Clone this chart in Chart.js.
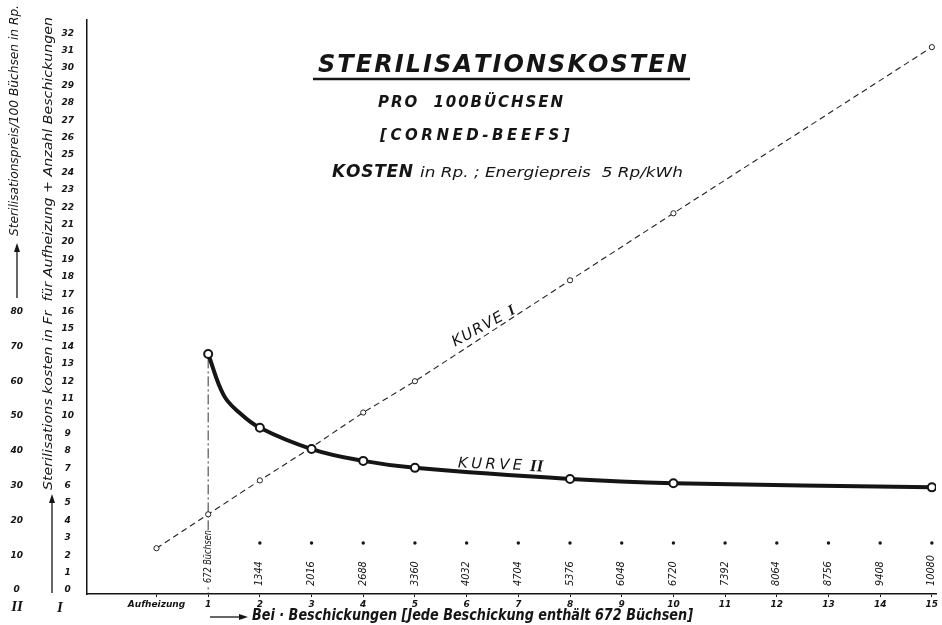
<!DOCTYPE html>
<html><head><meta charset="utf-8">
<script src="https://cdn.jsdelivr.net/npm/chart.js@4.4.1/dist/chart.umd.min.js"></script>
<style>html,body{margin:0;padding:0;background:#fff;}canvas{display:block;}</style>
</head><body>
<canvas id="c" width="942" height="625"></canvas>
<script>
// ---- data ----
const beschickungen = [0,1,2,3,4,5,6,7,8,9,10,11,12,13,14,15];
const xTickLabels = ['Aufheizung','1','2','3','4','5','6','7','8','9','10','11','12','13','14','15'];
const buechsenLabels = ['672 Büchsen','1344','2016','2688','3360','4032','4704','5376','6048','6720','7392','8064','8756','9408','10080'];
const kurve1X = [0,1,2,3,4,5,8,10,15];
const kurve1Fr = [2.4,4.35,6.3,8.2,10.2,12.0,17.8,21.65,31.2];      // Kurve I, scale I (Fr)
const kurve2X = [1,1.3,1.6,2,3,4,5,8,10,15];
const kurve2Rp = [67.8,56.0,51.0,46.6,40.5,37.1,35.1,31.9,30.7,29.5];
const kurve2Marked = [true,false,false,true,true,true,true,true,true,true];
const markX = [2,3,4,5,6,7,8,9,10,11,12,13,14,15];
const markValues = [2.7,2.7,2.7,2.7,2.7,2.7,2.7,2.7,2.7,2.7,2.7,2.7,2.7,2.7];
const scaleITicks = [0,1,2,3,4,5,6,7,8,9,10,11,12,13,14,15,16,17,18,19,20,21,22,23,24,25,26,27,28,29,30,31,32];
const scaleIITicks = [0,10,20,30,40,50,60,70,80];
const rpPerUnitI = 5;   // scale II = 5 x scale I
const yMinI = -0.23, yMaxI = 32.76;

const ink = '#151515';
const tickFont = {family:'"DejaVu Sans"', style:'italic', weight:'bold', size:9};

function fitted(ctx, text, x, y, width){
  const w = ctx.measureText(text).width;
  ctx.save(); ctx.translate(x, y); ctx.scale(width / w, 1); ctx.fillText(text, 0, 0); ctx.restore();
}
function spaced(ctx, text, x, y, width){
  const chars = [...text];
  const natural = ctx.measureText(text).width;
  const extra = chars.length > 1 ? (width - natural) / (chars.length - 1) : 0;
  if (extra < 0) { fitted(ctx, text, x, y, width); return; }
  let cx = x;
  for (const ch of chars){ ctx.fillText(ch, cx, y); cx += ctx.measureText(ch).width + extra; }
}
function arrowUp(ctx, x, y0, y1){
  ctx.beginPath(); ctx.moveTo(x, y0); ctx.lineTo(x, y1 + 6); ctx.stroke();
  ctx.beginPath(); ctx.moveTo(x, y1); ctx.lineTo(x - 3, y1 + 9); ctx.lineTo(x + 3, y1 + 9); ctx.closePath(); ctx.fill();
}
function arrowRight(ctx, x0, x1, y){
  ctx.beginPath(); ctx.moveTo(x0, y); ctx.lineTo(x1 - 6, y); ctx.stroke();
  ctx.beginPath(); ctx.moveTo(x1, y); ctx.lineTo(x1 - 9, y - 3); ctx.lineTo(x1 - 9, y + 3); ctx.closePath(); ctx.fill();
}

const decor = {
  id:'decor',
  afterDatasetsDraw(chart){
    const ctx = chart.ctx, xs = chart.scales.x;
    ctx.save();
    ctx.fillStyle = ink; ctx.strokeStyle = ink;
    ctx.textBaseline = 'alphabetic'; ctx.textAlign = 'left';

    // title block
    ctx.font = 'italic bold 24px "DejaVu Sans"';
    spaced(ctx, 'STERILISATIONSKOSTEN', 318, 72, 365);
    ctx.lineWidth = 2.5; ctx.beginPath(); ctx.moveTo(313, 79); ctx.lineTo(690, 79); ctx.stroke();
    ctx.font = 'italic bold 15px "DejaVu Sans"';
    spaced(ctx, 'PRO  100BÜCHSEN', 378, 107, 185);
    ctx.font = 'italic bold 15px "DejaVu Sans"';
    spaced(ctx, '[CORNED-BEEFS]', 380, 140, 190);
    ctx.font = 'italic bold 17px "DejaVu Sans"';
    spaced(ctx, 'KOSTEN', 332, 177, 80);
    ctx.font = 'italic 14px "DejaVu Sans"';
    fitted(ctx, 'in Rp. ; Energiepreis  5 Rp/kWh', 420, 177, 263);

    // y axis titles
    ctx.lineWidth = 1.3;
    arrowUp(ctx, 52, 593, 494);
    ctx.save(); ctx.translate(53, 490); ctx.rotate(-Math.PI/2);
    ctx.font = 'italic 13px "DejaVu Sans"'; ctx.textBaseline = 'middle';
    fitted(ctx, 'Sterilisations kosten in Fr  für Aufheizung + Anzahl Beschickungen', 0, -4, 473);
    ctx.restore();
    arrowUp(ctx, 17, 298, 243);
    ctx.save(); ctx.translate(18, 236); ctx.rotate(-Math.PI/2);
    ctx.font = 'italic 12px "DejaVu Sans"'; ctx.textBaseline = 'middle';
    fitted(ctx, 'Sterilisationspreis/100 Büchsen in Rp.', 0, -3, 231);
    ctx.restore();
    ctx.font = 'italic bold 15px "Liberation Serif"'; ctx.textAlign = 'center'; ctx.textBaseline = 'middle';
    ctx.fillText('II', 17, 607);
    ctx.fillText('I', 60, 608);

    // x axis title
    ctx.textAlign = 'left'; ctx.textBaseline = 'alphabetic';
    arrowRight(ctx, 210, 248, 617);
    ctx.font = 'italic bold 16px "DejaVu Sans"';
    fitted(ctx, 'Bei · Beschickungen [Jede Beschickung enthält 672 Büchsen]', 252, 620, 441);

    // rotated number of cans labels
    ctx.textBaseline = 'middle';
    buechsenLabels.forEach((lab, i) => {
      const px = xs.getPixelForValue(i + 1);
      ctx.save(); ctx.translate(px, 586); ctx.rotate(-Math.PI/2);
      ctx.font = 'italic 10px "DejaVu Sans"';
      if (i === 0){
        ctx.fillStyle = '#fff'; ctx.fillRect(0, -5, 56, 10); ctx.fillStyle = ink;
        fitted(ctx, lab, 3, 0, 53);
      } else {
        const w = ctx.measureText(lab).width;
        fitted(ctx, lab, 0, 0, Math.min(w, lab.length * 6.2));
      }
      ctx.restore();
    });

    // curve names
    ctx.textBaseline = 'alphabetic';
    ctx.save(); ctx.translate(484, 325); ctx.rotate(-29 * Math.PI/180);
    ctx.font = 'italic 15px "DejaVu Sans"';
    spaced(ctx, 'KURVE', -36, 5, 56);
    ctx.font = 'italic bold 15px "Liberation Serif"';
    ctx.fillText('I', 28, 5);
    ctx.restore();
    ctx.save(); ctx.translate(500, 464); ctx.rotate(2 * Math.PI/180);
    ctx.font = 'italic 15px "DejaVu Sans"';
    spaced(ctx, 'KURVE', -42, 5, 64);
    ctx.font = 'italic bold 17px "Liberation Serif"';
    ctx.fillText('II', 30, 6);
    ctx.restore();
    ctx.restore();
  }
};

new Chart(document.getElementById('c'), {
  type:'scatter',
  data:{ datasets:[
    { label:'Kurve II', yAxisID:'y2', data: kurve2X.map((x,i)=>({x, y:kurve2Rp[i]})),
      showLine:true, borderColor:ink, borderWidth:4, tension:0.4,
      pointRadius:c=>kurve2Marked[c.dataIndex] ? 4 : 0,
      pointBorderWidth:2, pointBackgroundColor:'#fff', pointBorderColor:ink },
    { label:'Kurve I', yAxisID:'y', data: kurve1X.map((x,i)=>({x, y:kurve1Fr[i]})),
      showLine:true, borderColor:'#222', borderWidth:1.1, borderDash:[6,4], tension:0,
      pointRadius:2.6, pointBorderWidth:1, pointBackgroundColor:'#fff', pointBorderColor:'#222' },
    { label:'Marken', yAxisID:'y', data: markX.map((x,i)=>({x, y:markValues[i]})),
      showLine:false, pointRadius:1.7, pointBorderWidth:0, pointBackgroundColor:ink },
    { label:'Lot', yAxisID:'y', data:[{x:kurve2X[0], y:kurve2Rp[0]/rpPerUnitI - 0.25},{x:kurve2X[0], y:yMinI}],
      showLine:true, borderColor:'#333', borderWidth:1, borderDash:[10,3,2,3], pointRadius:0 }
  ]},
  options:{
    responsive:false, animation:false, devicePixelRatio:1,
    layout:{ padding:{top:20,left:0,right:0,bottom:0} },
    plugins:{ legend:{display:false}, tooltip:{enabled:false} },
    scales:{
      x:{ type:'linear', min:-1.344, max:15.08,
        afterBuildTicks:s=>{ s.ticks = beschickungen.map(v=>({value:v})); },
        ticks:{ autoSkip:false, maxRotation:0, padding:2, color:ink, font:tickFont,
          callback:(v,i)=>xTickLabels[i] },
        grid:{ drawOnChartArea:false, drawTicks:true, tickLength:3, color:ink },
        border:{ display:true, color:ink, width:1.5 },
        afterFit:s=>{ s.height = 31; s.paddingLeft = 0; s.paddingRight = 0; } },
      y:{ type:'linear', position:'left', weight:0, min:yMinI, max:yMaxI,
        afterBuildTicks:s=>{ s.ticks = scaleITicks.map(v=>({value:v})); },
        ticks:{ crossAlign:'center', padding:13, color:ink, font:tickFont },
        grid:{ display:false, drawTicks:false, tickLength:0 }, border:{ display:true, color:ink, width:1.5 },
        afterFit:s=>{ s.width = 53; } },
      y2:{ type:'linear', position:'left', weight:1, min:yMinI*rpPerUnitI, max:yMaxI*rpPerUnitI,
        afterBuildTicks:s=>{ s.ticks = scaleIITicks.map(v=>({value:v})); },
        ticks:{ crossAlign:'center', padding:11, color:ink, font:tickFont },
        grid:{ display:false, drawTicks:false, tickLength:0 }, border:{ display:false },
        afterFit:s=>{ s.width = 34; } }
    }
  },
  plugins:[decor]
});
</script>
</body></html>
